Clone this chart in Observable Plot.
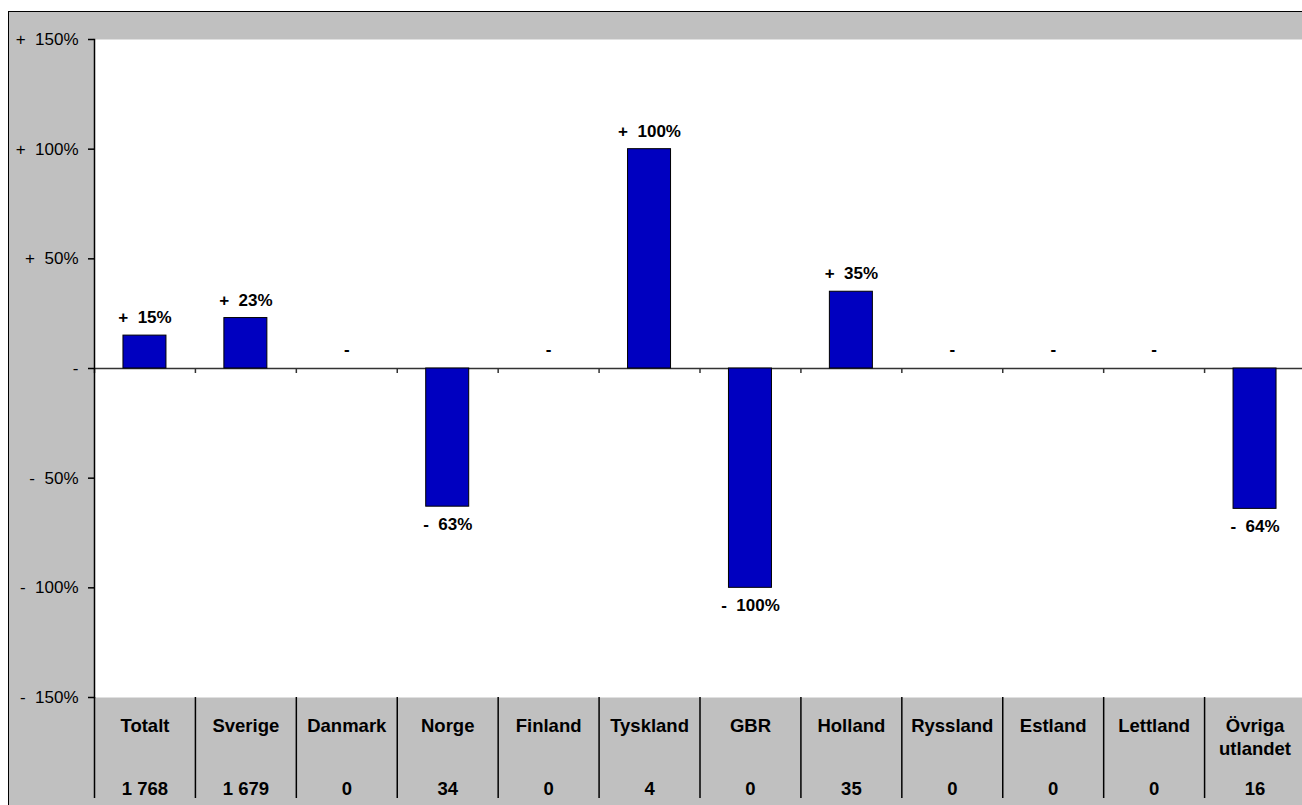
<!DOCTYPE html>
<html>
<head>
<meta charset="utf-8">
<script src="https://cdn.jsdelivr.net/npm/d3@7"></script>
<script src="https://cdn.jsdelivr.net/npm/@observablehq/plot@0.6"></script>
<style>
  html, body { margin: 0; padding: 0; background: white; overflow: hidden; width: 1302px; height: 805px; }
  #bg { position: absolute; left: 8px; top: 11px; width: 1300px; height: 800px; background: #c0c0c0;
        border-left: 1.5px solid #000; border-top: 1.5px solid #000; }
  #chart { position: absolute; left: 0; top: 0; }
</style>
</head>
<body>
<div id="bg"></div>
<div id="chart"></div>
<script>
// ---- data ----
const categories = ["Totalt", "Sverige", "Danmark", "Norge", "Finland", "Tyskland", "GBR", "Holland", "Ryssland", "Estland", "Lettland", "Övriga utlandet"];
const categoryLabels = ["Totalt", "Sverige", "Danmark", "Norge", "Finland", "Tyskland", "GBR", "Holland", "Ryssland", "Estland", "Lettland", "Övriga\nutlandet"];
const changes = [15, 23, 0, -63, 0, 100, -100, 35, 0, 0, 0, -64];
const counts = [1768, 1679, 0, 34, 0, 4, 0, 35, 0, 0, 0, 16];
const yTicks = [-150, -100, -50, 0, 50, 100, 150];

// ---- layout ----
const W = 1305, H = 805, mL = 94, mT = 39, mB = 108, mR = 0;
const step = (W - mL - mR) / categories.length;
const frameH = H - mT - mB;

const data = categories.map((c, i) => ({cat: c, label: categoryLabels[i], val: changes[i], n: counts[i]}));
const sv = d3.formatLocale({decimal: ",", thousands: "\u00a0", grouping: [3], currency: ["", " kr"]});
const fmtN = sv.format(",d");
const pct = v => v > 0 ? "+\u00a0\u00a0" + v + "%" : v < 0 ? "-\u00a0\u00a0" + (-v) + "%" : "-";

const chart = Plot.plot({
  width: W, height: H,
  marginLeft: mL, marginTop: mT, marginBottom: mB, marginRight: mR,
  style: {background: "transparent", maxWidth: "none", fontFamily: "'Liberation Sans', Arial, sans-serif", overflow: "visible"},
  x: {domain: categories, paddingInner: 0.574, paddingOuter: 0.287, round: false, axis: null},
  y: {domain: [-150, 150], axis: null},
  marks: [
    Plot.frame({fill: "white", stroke: null}),
    // zero line
    Plot.ruleY([0], {stroke: "#333", strokeWidth: 1.5}),
    // small ticks at category boundaries on zero line
    Plot.ruleX(data, {x: "cat", dx: -step / 2, y1: 0, y2: 0, insetBottom: -5, stroke: "#333", strokeWidth: 1.5}),
    // dividers in bottom band
    Plot.ruleX(data, {x: "cat", dx: -step / 2, insetTop: frameH, insetBottom: -101, stroke: "#000", strokeWidth: 1.5}),
    Plot.barY(data, {x: "cat", y: "val", fill: "#0000c0", stroke: "#000", strokeWidth: 1}),
    // value labels
    Plot.text(data.filter(d => d.val > 0), {x: "cat", y: "val", text: d => pct(d.val), dy: -18, fontSize: 17, fontWeight: "bold", fill: "#000"}),
    Plot.text(data.filter(d => d.val < 0), {x: "cat", y: "val", text: d => pct(d.val), dy: 18, fontSize: 17, fontWeight: "bold", fill: "#000"}),
    Plot.text(data.filter(d => d.val === 0), {x: "cat", y: "val", text: d => pct(d.val), dy: -19, fontSize: 17, fontWeight: "bold", fill: "#000"}),
    // category labels + counts
    Plot.text(data, {x: "cat", text: "label", frameAnchor: "bottom", lineAnchor: "top", dy: 18, lineHeight: 1.243, fontSize: 18.5, fontWeight: "bold", fill: "#000"}),
    Plot.text(data, {x: "cat", text: d => fmtN(d.n), frameAnchor: "bottom", lineAnchor: "bottom", dy: 97, fontSize: 18.5, fontWeight: "bold", fill: "#000"}),
    // y axis
    Plot.axisY({ticks: yTicks, tickFormat: pct, label: null, tickSize: 6, tickPadding: 10, fontSize: 17, stroke: "#000", color: "#000", strokeWidth: 1.5}),
    Plot.frame({anchor: "left", stroke: "#000", strokeWidth: 1.5})
  ]
});
document.getElementById("chart").append(chart);
</script>
</body>
</html>
